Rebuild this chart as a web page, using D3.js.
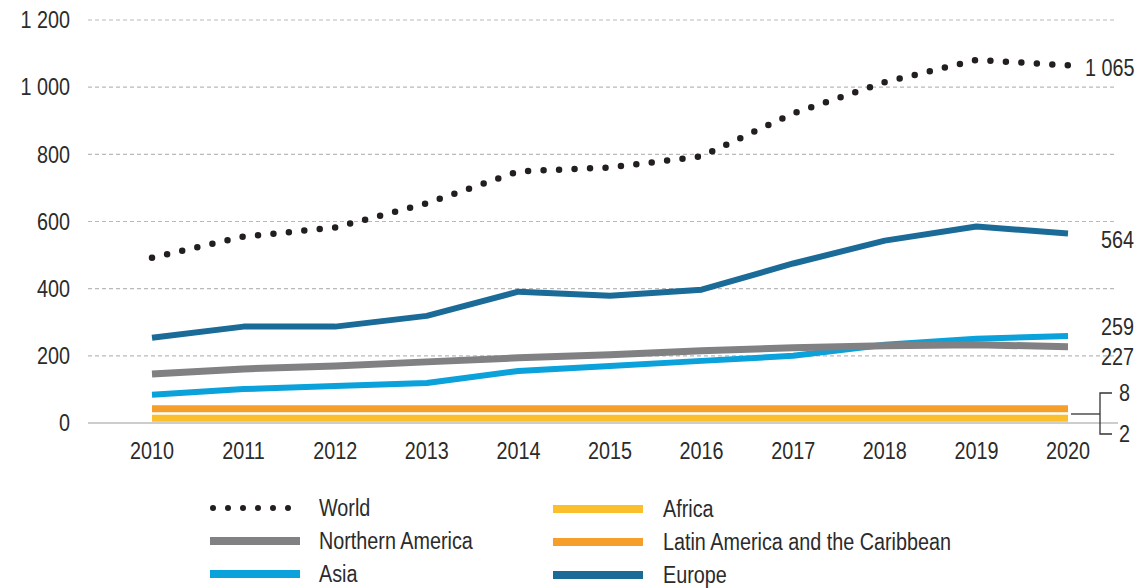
<!DOCTYPE html>
<html>
<head>
<meta charset="utf-8">
<script src="https://cdn.jsdelivr.net/npm/d3@7"></script>
<style>
  body { margin: 0; background: #fff; }
  svg text { font-family: "Liberation Sans", Arial, sans-serif; fill: #2b2b2b; font-size: 23px; }
</style>
</head>
<body>
<svg width="1147" height="588"></svg>
<script>
// Data
const years = [2010, 2011, 2012, 2013, 2014, 2015, 2016, 2017, 2018, 2019, 2020];
const world = [492, 555, 582, 654, 749, 761, 794, 922, 1015, 1081, 1065];
const europe = [254, 287, 287, 319, 391, 379, 397, 475, 543, 585, 564];
const northernAmerica = [146, 161, 170, 182, 194, 203, 215, 224, 230, 233, 227];
const asia = [84, 101, 110, 119, 155, 170, 185, 200, 233, 251, 259];
const latinAmerica = [8, 8, 8, 8, 8, 8, 8, 8, 8, 8, 8];
const africa = [2, 2, 2, 2, 2, 2, 2, 2, 2, 2, 2];
const yTicks = [0, 200, 400, 600, 800, 1000, 1200];

const svg = d3.select('svg');

// Scales
const x = d3.scaleLinear().domain([2010, 2020]).range([152, 1068]);
const y = d3.scaleLinear().domain([0, 1200]).range([423, 20]);

const fmt = v => d3.format(',')(v).replace(/,/g, ' ');

// Narrow text: squeeze regular font horizontally to mimic condensed face
const squeeze = 0.86;
function addText(sel, tx, ty) {
  return sel.append('text')
    .attr('transform', (d, i) => `translate(${typeof tx === 'function' ? tx(d, i) : tx},${typeof ty === 'function' ? ty(d, i) : ty}) scale(${squeeze},1)`)
    .attr('dy', '0.36em');
}

// Gridlines
svg.append('g')
  .selectAll('line')
  .data(yTicks.filter(d => d > 0))
  .enter().append('line')
  .attr('x1', 88).attr('x2', 1117)
  .attr('y1', d => y(d)).attr('y2', d => y(d))
  .style('stroke', '#b9b9bb')
  .style('stroke-width', 1.2)
  .style('stroke-dasharray', '4 3');

// Baseline
svg.append('line')
  .attr('x1', 88).attr('x2', 1118)
  .attr('y1', y(0)).attr('y2', y(0))
  .style('stroke', '#bcbcbe')
  .style('stroke-width', 1.5);

// Y axis labels
addText(svg.append('g').selectAll('g').data(yTicks).enter(), 70, d => y(d))
  .attr('text-anchor', 'end')
  .text(fmt);

// X axis labels
addText(svg.append('g').selectAll('g').data(years).enter(), d => x(d), 451)
  .attr('text-anchor', 'middle')
  .text(d => d);

// Series (lift = pixel offset so the tiny regions sit visibly above the baseline)
const series = [
  { name: 'Africa', values: africa, color: '#fbbf2b', width: 7, lift: 4 },
  { name: 'Latin America and the Caribbean', values: latinAmerica, color: '#f59f2a', width: 7, lift: 11.5 },
  { name: 'Asia', values: asia, color: '#0ba1da', width: 6, lift: 0 },
  { name: 'Northern America', values: northernAmerica, color: '#818184', width: 7, lift: 0 },
  { name: 'Europe', values: europe, color: '#1b6b98', width: 6, lift: 0 }
];

series.forEach(s => {
  const line = d3.line()
    .x((d, i) => x(years[i]))
    .y(d => y(d) - s.lift);
  svg.append('path')
    .datum(s.values)
    .attr('d', line)
    .style('fill', 'none')
    .style('stroke', s.color)
    .style('stroke-width', s.width)
    .style('stroke-linejoin', 'round');
});

// World dotted line
svg.append('path')
  .datum(world)
  .attr('d', d3.line().x((d, i) => x(years[i])).y(d => y(d)))
  .style('fill', 'none')
  .style('stroke', '#231f20')
  .style('stroke-width', 6.5)
  .style('stroke-linecap', 'round')
  .style('stroke-dasharray', '0 15.5');

// End labels
const last = years.length - 1;
const endLabels = [
  { v: world[last], ty: 68, tx: 1085 },
  { v: europe[last], ty: 240, tx: 1101 },
  { v: asia[last], ty: 327, tx: 1101 },
  { v: northernAmerica[last], ty: 357, tx: 1101 }
];
addText(svg.append('g').selectAll('g').data(endLabels).enter(), d => d.tx, d => d.ty)
  .text(d => fmt(d.v));

// Bracket for Latin America / Africa
const br = svg.append('g').style('stroke', '#333').style('stroke-width', 1.3).style('fill', 'none');
br.append('line').attr('x1', 1071).attr('x2', 1100).attr('y1', 414).attr('y2', 414);
br.append('path').attr('d', 'M1112,393 H1100 V434 H1112');
addText(svg, 1119, 393).text(latinAmerica[last]);
addText(svg, 1119, 434).text(africa[last]);

// Legend
const legend = [
  { name: 'World', color: '#231f20', dotted: true, lx: 213, ly: 508 },
  { name: 'Northern America', color: '#818184', lx: 210, ly: 541 },
  { name: 'Asia', color: '#0ba1da', lx: 210, ly: 574 },
  { name: 'Africa', color: '#fbbf2b', lx: 553, ly: 509 },
  { name: 'Latin America and the Caribbean', color: '#f59f2a', lx: 553, ly: 542 },
  { name: 'Europe', color: '#1b6b98', lx: 553, ly: 575 }
];
const lg = svg.append('g').selectAll('g').data(legend).enter().append('g');
lg.append('line')
  .attr('x1', d => d.lx).attr('x2', d => d.dotted ? d.lx + 86 : d.lx + 90)
  .attr('y1', d => d.ly).attr('y2', d => d.ly)
  .style('stroke', d => d.color)
  .style('stroke-width', d => d.dotted ? 6 : 8)
  .style('stroke-linecap', d => d.dotted ? 'round' : 'butt')
  .style('stroke-dasharray', d => d.dotted ? '0 15' : null);
addText(lg, d => d.lx < 400 ? 319 : 663, d => d.ly)
  .text(d => d.name);
</script>
</body>
</html>
